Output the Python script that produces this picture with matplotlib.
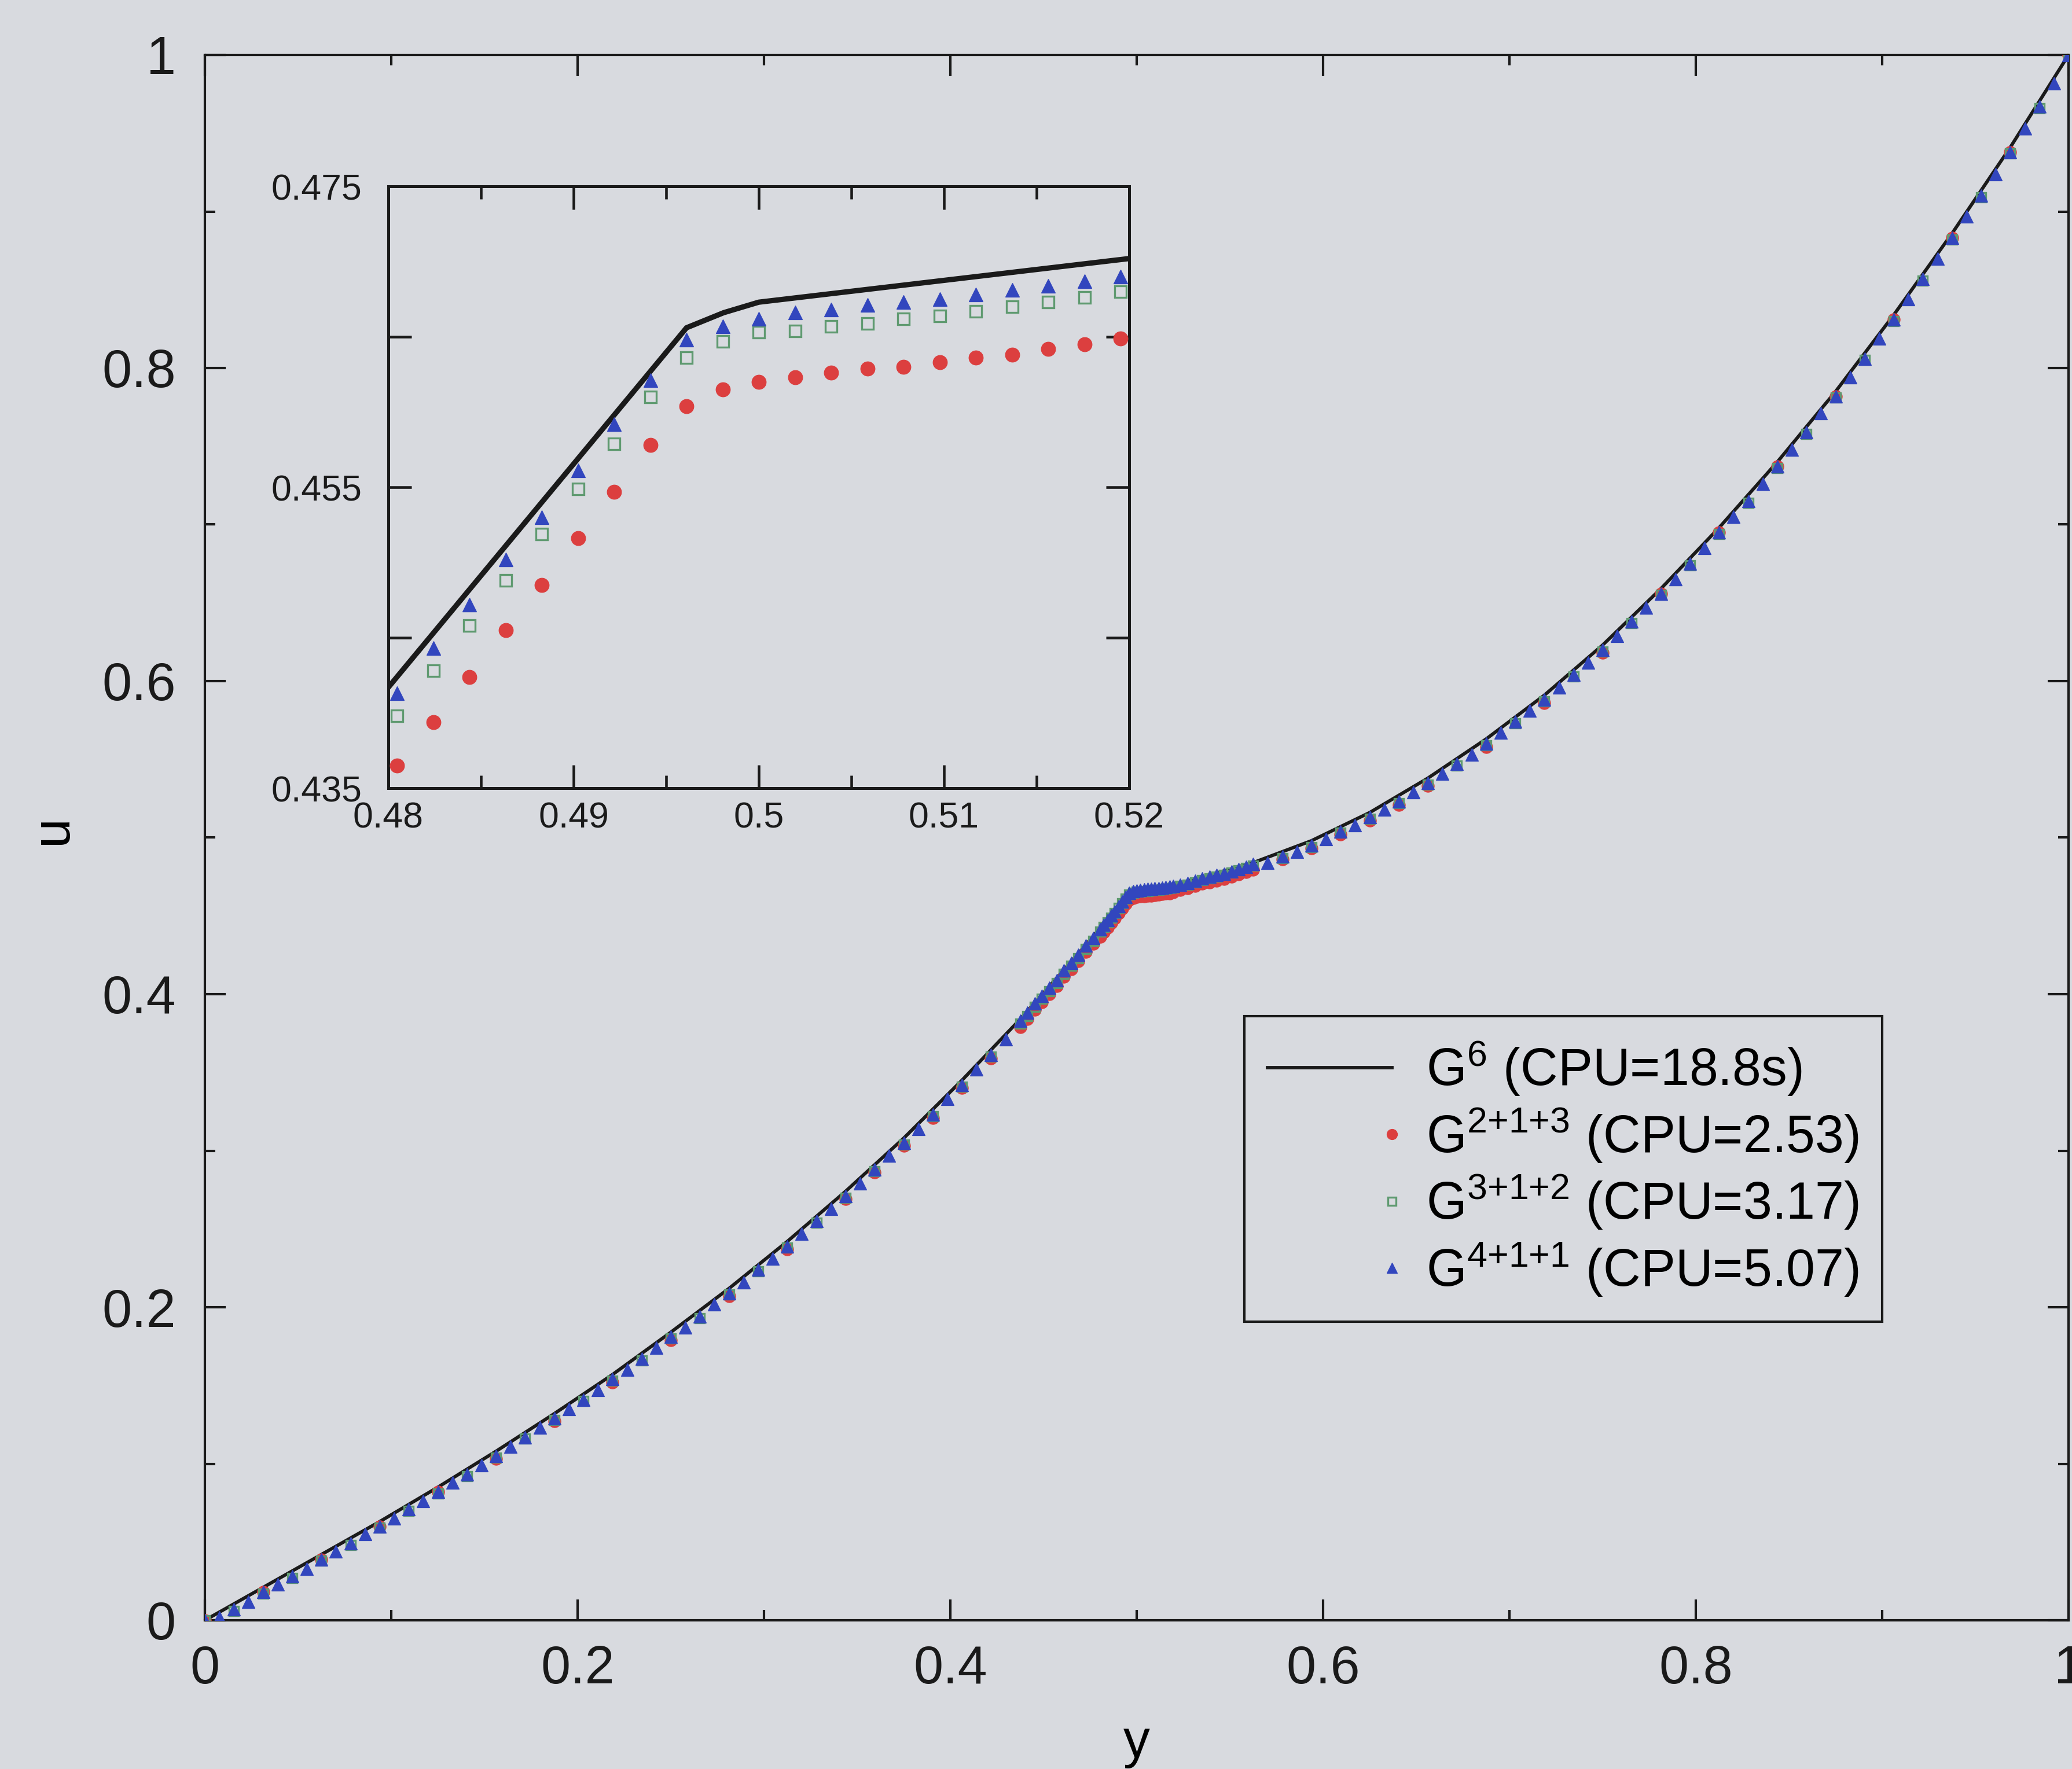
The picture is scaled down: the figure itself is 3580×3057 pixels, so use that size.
import numpy as np
import matplotlib
matplotlib.use("Agg")
import matplotlib.pyplot as plt
from matplotlib.ticker import MultipleLocator, FixedLocator, FuncFormatter
from matplotlib.legend_handler import HandlerLine2D

plt.rcParams["font.family"] = ["Liberation Sans", "DejaVu Sans"]
plt.rcParams["mathtext.fontset"] = "custom"
plt.rcParams["mathtext.rm"] = "Liberation Sans"
plt.rcParams["mathtext.it"] = "Liberation Sans:italic"
plt.rcParams["mathtext.bf"] = "Liberation Sans:bold"

# ---------------------------------------------------------------- data
LABELS = [
    r"G$^{\mathregular{6}}$ (CPU=18.8s)",
    r"G$^{\mathregular{2{+}1{+}3}}$ (CPU=2.53)",
    r"G$^{\mathregular{3{+}1{+}2}}$ (CPU=3.17)",
    r"G$^{\mathregular{4{+}1{+}1}}$ (CPU=5.07)",
]

# fine-grid reference solution G^6 (u in thousandths)
Y_G6 = [0, 0.03125, 0.0625, 0.09375, 0.125, 0.15625, 0.1875, 0.21875, 0.25,
        0.28125, 0.3125, 0.34375, 0.375, 0.40625, 0.4375, 0.46875, 0.48,
        0.4961, 0.4981, 0.5, 0.52, 0.53125, 0.5625, 0.59375, 0.625, 0.65625,
        0.6875, 0.71875, 0.75, 0.78125, 0.8125, 0.84375, 0.875, 0.90625,
        0.9375, 0.96875, 1.0]
U_G6 = [0, 21, 42, 63, 85, 108, 132, 157, 184, 212, 242, 274, 308, 345, 384,
        426, 441.7, 465.6, 466.6, 467.3, 470.2, 473.5, 484, 498, 516, 538, 563,
        591, 623, 659, 698, 740, 785, 834, 886, 941, 1000]

# refined band around the interface, shared by the three composite grids
Y_MID = np.r_[0.4375 + np.arange(11) / 256,
              0.5 + np.arange(-10, 11) / 512,
              0.5 + np.arange(6, 17) / 256]

# G^{4+1+1}: base mesh h = 1/128
Y_411 = np.r_[np.arange(0, 56) / 128, Y_MID, np.arange(73, 129) / 128]
U_411 = [0, 2, 7, 12, 18, 23, 28, 33, 39, 44, 49, 55, 60, 65, 71, 76, 82, 88,
         93, 99, 105, 111, 117, 123, 129, 135, 141, 147, 154, 160, 167, 174,
         181, 187, 194, 202, 209, 216, 224, 231, 239, 247, 255, 263, 271, 279,
         288, 297, 305, 314, 323, 333, 342, 352, 361, 371,
         383, 388, 394, 399, 404, 409, 415, 420, 425, 431, 436,
         441.3, 444.3, 447.2, 450.2, 453.0, 456.1, 459.2, 462.1, 464.8, 465.7,
         466.2, 466.6, 466.8, 467.1, 467.3, 467.5, 467.8, 468.1, 468.4, 468.7,
         469.0,
         470, 471, 472.5, 474, 475, 476, 477, 478.5, 480, 481.5, 483,
         484, 488, 491, 495, 499, 504, 508, 513, 518, 523, 529, 535, 541, 547,
         553, 560, 567, 574, 581, 588, 596, 604, 612, 620, 629, 638, 647, 656,
         665, 675, 685, 695, 705, 715, 726, 737, 748, 759, 771, 782, 794, 806,
         819, 831, 844, 857, 870, 883, 897, 910, 924, 938, 953, 967, 982, 1000]

# G^{3+1+2}: base mesh h = 1/64
Y_312 = np.r_[np.arange(0, 55, 2) / 128, Y_MID, np.arange(74, 129, 2) / 128]
U_312 = [0, 6, 17, 27, 38, 48, 59, 70, 81, 92, 104, 116, 128, 140, 153, 166,
         180, 193, 208, 223, 238, 254, 270, 287, 304, 322, 341, 360,
         381, 386, 392, 397, 402, 407, 413, 418, 423, 429, 434,
         439.8, 442.8, 445.8, 448.8, 451.9, 454.9, 457.9, 461.0, 463.6, 464.7,
         465.3, 465.4, 465.7, 465.9, 466.2, 466.4, 466.7, 467.0, 467.3, 467.6,
         468.0,
         469, 470, 471.5, 473, 474, 475, 476, 477.5, 479, 480.5, 482,
         487, 494, 503, 512, 522, 534, 546, 559, 573, 587, 603, 619, 637, 655,
         674, 694, 714, 736, 758, 781, 805, 830, 856, 882, 909, 937, 966, 1000]

# G^{2+1+3}: base mesh h = 1/32
Y_213 = np.r_[np.arange(0, 45, 4) / 128, np.arange(46, 55, 2) / 128, Y_MID,
              np.arange(74, 85, 2) / 128, np.arange(88, 129, 4) / 128]
U_213 = [0, 18, 39, 60, 82, 103, 127, 152, 179, 207, 237, 269, 286, 303, 321,
         340, 359,
         379, 384, 390, 395, 400, 405, 411, 416, 421, 427, 432,
         436.5, 439.4, 442.4, 445.5, 448.5, 451.6, 454.7, 457.8, 460.4, 461.5,
         462.0, 462.3, 462.6, 462.9, 463.0, 463.3, 463.6, 463.8, 464.2, 464.5,
         464.9,
         466.5, 467.5, 469, 470.5, 471.5, 472.5, 473.5, 475, 476.5, 478, 479.5,
         486, 493, 502, 511, 521, 533, 558, 586, 618, 656, 695, 737, 782, 831,
         883, 938, 1000]

# ---------------------------------------------------------------- style
BG = "#d8dadf"
RED = "#dc3f3f"
GREEN = "#5f9a70"
BLUE = "#3246be"
INK = "#1a1a1a"

W, H = 3580, 3057
DPI = 300
fig = plt.figure(figsize=(W / DPI, H / DPI), dpi=DPI, facecolor=BG)


def frac_box(x0, y0, x1, y1):
    """pixel box (top-left origin) -> figure fraction [l, b, w, h]"""
    return [x0 / W, 1 - y1 / H, (x1 - x0) / W, (y1 - y0) / H]


ax = fig.add_axes(frac_box(354, 95, 3574, 2800), facecolor=BG)
ins = fig.add_axes(frac_box(671, 322, 1951, 1362), facecolor=BG)

series = [
    (Y_213, U_213, dict(marker="o", ms=5.9, mfc=RED, mec=RED, mew=0.3), LABELS[1]),
    (Y_312, U_312, dict(marker="s", ms=4.6, mfc="none", mec=GREEN, mew=0.8), LABELS[2]),
    (Y_411, U_411, dict(marker="^", ms=5.9, mfc=BLUE, mec=BLUE, mew=0.3), LABELS[3]),
]


def draw(a, lw, scale):
    (line,) = a.plot(Y_G6, np.asarray(U_G6) / 1000, color=INK, lw=lw,
                     zorder=2, label=LABELS[0])
    handles = [line]
    for y, u, kw, lab in series:
        kw = dict(kw, ms=kw["ms"] * scale)
        (h,) = a.plot(y, np.asarray(u) / 1000, ls="none", zorder=3,
                      label=lab, **kw)
        handles.append(h)
    return handles


handles = draw(ax, 1.4, 0.86)
draw(ins, 2.2, 1.0)

# main axes
ax.set_xlim(0, 1)
ax.set_ylim(0, 1)
for axis in (ax.xaxis, ax.yaxis):
    axis.set_major_locator(MultipleLocator(0.2))
    axis.set_minor_locator(MultipleLocator(0.1))
    axis.set_major_formatter(FuncFormatter(lambda v, p: f"{v:g}"))
ax.tick_params(which="both", direction="in", top=True, right=True,
               colors=INK, width=1.0, labelsize=22)
ax.tick_params(which="major", length=8.6)
ax.tick_params(which="minor", length=4.3)
ax.tick_params(axis="x", pad=10)
ax.tick_params(axis="y", pad=12)
for s in ax.spines.values():
    s.set_linewidth(1.0)
    s.set_color(INK)
ax.set_xlabel("y", fontsize=22)
ax.set_ylabel("u", fontsize=22)
ax.xaxis.set_label_coords(0.5, -0.0787)
ax.xaxis.label.set_va("center")
ax.yaxis.set_label_coords(-0.0817, 0.505)
ax.yaxis.label.set_va("center")

# inset
ins.set_xlim(0.48, 0.52)
ins.set_ylim(0.435, 0.475)
ins.xaxis.set_major_locator(MultipleLocator(0.01))
ins.xaxis.set_minor_locator(MultipleLocator(0.005))
ins.xaxis.set_major_formatter(FuncFormatter(lambda v, p: f"{v:g}"))
INSET_YTICKS = [0.435, 0.445, 0.455, 0.465, 0.475]
INSET_YLABELS = {0.435: "0.435", 0.455: "0.455", 0.475: "0.475"}
ins.yaxis.set_major_locator(FixedLocator(INSET_YTICKS))
ins.yaxis.set_major_formatter(
    FuncFormatter(lambda v, p: INSET_YLABELS.get(round(v, 3), "")))
ins.tick_params(which="both", direction="in", top=True, right=True,
                colors=INK, width=1.1, labelsize=15)
ins.tick_params(which="major", length=9.5)
ins.tick_params(which="minor", length=5.3)
ins.tick_params(axis="x", pad=5.5)
ins.tick_params(axis="y", pad=11)
for s in ins.spines.values():
    s.set_linewidth(1.2)
    s.set_color(INK)


class EndMarkerHandler(HandlerLine2D):
    """Place the legend marker at the right end of the handle."""

    def get_xdata(self, legend, xdescent, ydescent, width, height, fontsize):
        x_end = -xdescent + width
        return [x_end - 1.0, x_end + 1.0], [x_end]


leg = ax.legend(handles=handles, labels=LABELS, loc="upper left",
                bbox_to_anchor=(2150 / W, 1 - 1756 / H),
                bbox_transform=fig.transFigure, fontsize=21.5,
                handlelength=2.4, handletextpad=0.65, borderpad=0.45,
                labelspacing=0.16, borderaxespad=0, fancybox=False,
                framealpha=1, facecolor=BG, edgecolor=INK, markerscale=0.85,
                handler_map={h: EndMarkerHandler() for h in handles[1:]})
leg.get_frame().set_linewidth(1.0)

fig.savefig("out.png", dpi=DPI, facecolor=BG)
